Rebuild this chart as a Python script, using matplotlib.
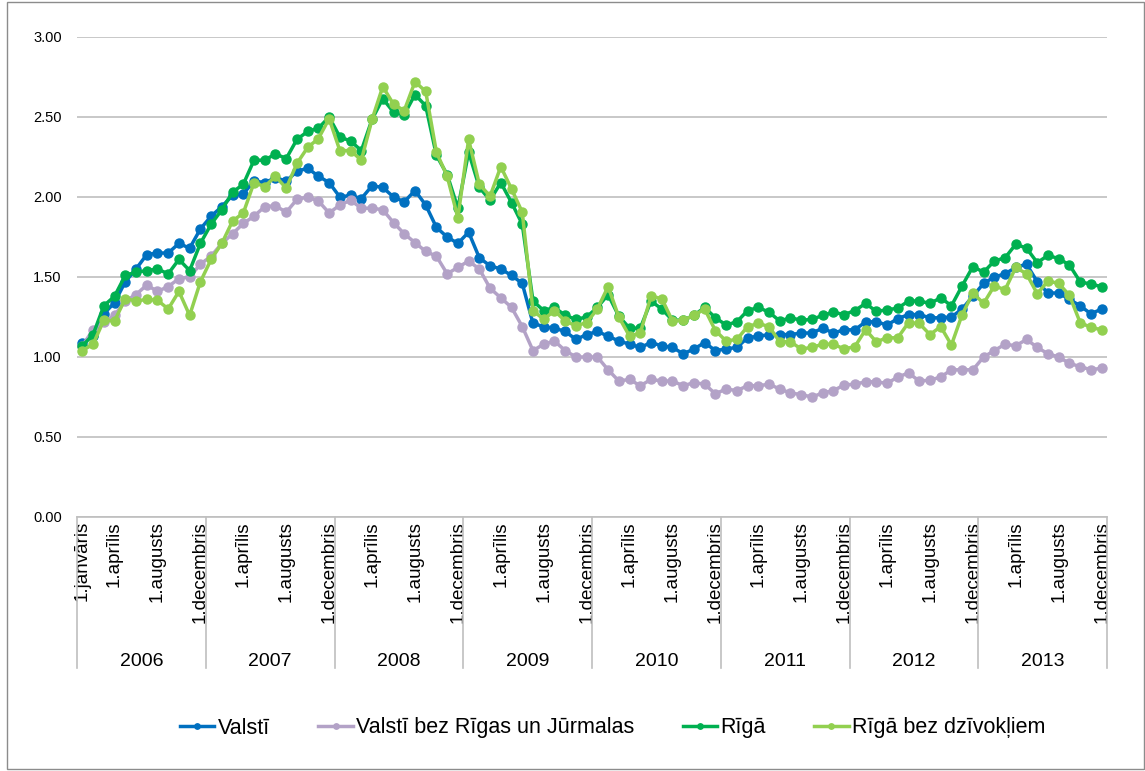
import numpy as np
import matplotlib
matplotlib.use("Agg")
import matplotlib.pyplot as plt
from matplotlib.patches import Rectangle
import matplotlib.transforms as mtransforms

plt.rcParams['font.family'] = ['Liberation Sans', 'DejaVu Sans']

years = ["2006", "2007", "2008", "2009", "2010", "2011", "2012", "2013"]
series_names = ["Valstī", "Valstī bez Rīgas un Jūrmalas", "Rīgā", "Rīgā bez dzīvokļiem"]

# monthly values, Jan 2006 .. Dec 2013
valsti = [
    1.09, 1.13, 1.27, 1.34, 1.47, 1.55, 1.64, 1.65, 1.65, 1.71, 1.68, 1.80,
    1.88, 1.94, 2.01, 2.02, 2.10, 2.09, 2.12, 2.10, 2.16, 2.18, 2.13, 2.09,
    2.00, 2.01, 1.99, 2.07, 2.06, 2.00, 1.97, 2.04, 1.95, 1.81, 1.75, 1.71,
    1.78, 1.62, 1.57, 1.55, 1.51, 1.46, 1.21, 1.19, 1.18, 1.16, 1.11, 1.14,
    1.16, 1.13, 1.10, 1.08, 1.06, 1.09, 1.07, 1.06, 1.02, 1.05, 1.09, 1.04,
    1.05, 1.06, 1.12, 1.13, 1.14, 1.14, 1.14, 1.15, 1.15, 1.18, 1.15, 1.17,
    1.17, 1.22, 1.22, 1.20, 1.24, 1.265, 1.265, 1.245, 1.245, 1.25, 1.30, 1.38,
    1.46, 1.50, 1.52, 1.56, 1.58, 1.47, 1.40, 1.40, 1.36, 1.32, 1.27, 1.30,
]
valsti_bez = [
    1.07, 1.17, 1.22, 1.26, 1.35, 1.39, 1.45, 1.41, 1.44, 1.49, 1.50, 1.58,
    1.63, 1.71, 1.77, 1.835, 1.88, 1.94, 1.945, 1.905, 1.985, 2.00, 1.975, 1.90,
    1.95, 1.98, 1.93, 1.93, 1.92, 1.84, 1.77, 1.715, 1.66, 1.63, 1.52, 1.56,
    1.60, 1.55, 1.43, 1.37, 1.31, 1.19, 1.04, 1.08, 1.10, 1.04, 1.00, 1.00,
    1.00, 0.92, 0.85, 0.86, 0.82, 0.86, 0.85, 0.85, 0.82, 0.84, 0.83, 0.77,
    0.80, 0.79, 0.82, 0.82, 0.83, 0.80, 0.775, 0.765, 0.75, 0.775, 0.79, 0.825,
    0.83, 0.845, 0.845, 0.835, 0.875, 0.90, 0.85, 0.855, 0.875, 0.92, 0.92, 0.92,
    1.00, 1.04, 1.08, 1.07, 1.11, 1.06, 1.02, 1.00, 0.96, 0.94, 0.92, 0.93,
]
riga = [
    1.07, 1.14, 1.32, 1.38, 1.51, 1.53, 1.54, 1.55, 1.52, 1.61, 1.54, 1.71,
    1.83, 1.92, 2.03, 2.08, 2.23, 2.23, 2.27, 2.24, 2.36, 2.41, 2.43, 2.50,
    2.375, 2.35, 2.29, 2.485, 2.615, 2.53, 2.515, 2.64, 2.57, 2.26, 2.14, 1.93,
    2.28, 2.06, 1.98, 2.09, 1.965, 1.83, 1.35, 1.29, 1.31, 1.26, 1.235, 1.25,
    1.31, 1.39, 1.255, 1.18, 1.18, 1.35, 1.30, 1.23, 1.23, 1.26, 1.31, 1.245,
    1.20, 1.22, 1.29, 1.31, 1.28, 1.225, 1.245, 1.23, 1.235, 1.26, 1.28, 1.265,
    1.29, 1.335, 1.285, 1.295, 1.305, 1.35, 1.35, 1.335, 1.37, 1.32, 1.445, 1.565,
    1.53, 1.60, 1.62, 1.705, 1.68, 1.59, 1.635, 1.615, 1.575, 1.47, 1.455, 1.44,
]
riga_bez = [
    1.04, 1.08, 1.23, 1.225, 1.365, 1.35, 1.36, 1.355, 1.30, 1.41, 1.26, 1.47,
    1.61, 1.71, 1.85, 1.90, 2.09, 2.065, 2.13, 2.055, 2.21, 2.31, 2.365, 2.49,
    2.29, 2.29, 2.23, 2.485, 2.69, 2.58, 2.54, 2.72, 2.66, 2.28, 2.13, 1.87,
    2.36, 2.08, 2.005, 2.19, 2.05, 1.905, 1.29, 1.235, 1.29, 1.225, 1.195, 1.215,
    1.30, 1.44, 1.25, 1.13, 1.15, 1.38, 1.365, 1.225, 1.23, 1.26, 1.30, 1.165,
    1.10, 1.11, 1.19, 1.21, 1.19, 1.095, 1.095, 1.05, 1.06, 1.08, 1.08, 1.05,
    1.065, 1.17, 1.095, 1.12, 1.12, 1.215, 1.21, 1.14, 1.19, 1.075, 1.265, 1.40,
    1.335, 1.445, 1.42, 1.56, 1.52, 1.395, 1.475, 1.46, 1.385, 1.215, 1.185, 1.17,
]

# month labels shown under the axis (month index within year -> label)
first_year_labels = {0: "1.janvāris", 3: "1.aprīlis", 7: "1.augusts", 11: "1.decembris"}
other_year_labels = {3: "1.aprīlis", 7: "1.augusts", 11: "1.decembris"}

colors = ["#0070C0", "#B3A2C7", "#00B050", "#92D050"]

fig = plt.figure(figsize=(11.45, 7.71), dpi=100)
ax = fig.add_axes([77 / 1145, 1 - 517 / 771, 1030 / 1145, 480 / 771])

x = np.arange(len(valsti))
for vals, name, c in zip([valsti, valsti_bez, riga, riga_bez], series_names, colors):
    ax.plot(x, vals, color=c, lw=2.5, marker="o", ms=6.5, label=name)

ax.set_xlim(-0.5, len(valsti) - 0.5)
ax.set_ylim(0, 3.0)
ax.set_yticks(np.arange(0, 3.01, 0.5))
ax.set_yticklabels([f"{v:.2f}" for v in np.arange(0, 3.01, 0.5)], fontsize=10.5)
ax.yaxis.grid(True, color="#BFBFBF", lw=1.2)
ax.set_axisbelow(True)
for s in ["left", "right", "top"]:
    ax.spines[s].set_visible(False)
ax.spines["bottom"].set_color("#BFBFBF")
ax.spines["bottom"].set_linewidth(1.2)
ax.tick_params(axis="y", length=0, pad=11)

ticks, labels = [], []
for k in range(len(years)):
    lab = first_year_labels if k == 0 else other_year_labels
    for m, t in lab.items():
        ticks.append(12 * k + m)
        labels.append(t)
ax.set_xticks(ticks)
ax.set_xticklabels(labels, rotation=90, fontsize=13.5, va="top", ha="center")
ax.tick_params(axis="x", length=0, pad=3)

trans = mtransforms.blended_transform_factory(ax.transData, ax.transAxes)
for k in range(len(years) + 1):
    ax.plot([12 * k - 0.5] * 2, [0, -0.315], transform=trans, color="#BFBFBF",
            lw=1.2, clip_on=False)
for k, yr in enumerate(years):
    ax.text(12 * k + 5.5, -0.3, yr, transform=trans, ha="center", va="center",
            fontsize=14)

fig.legend(loc="center", bbox_to_anchor=(0.535, 1 - 728 / 771), ncol=4,
           frameon=False, fontsize=15.5, handlelength=1.6, columnspacing=2.25,
           handletextpad=0.15, markerscale=0.6)

fig.patches.append(Rectangle((7 / 1145, 2 / 771), 1 - 8 / 1145, 1 - 4 / 771,
                             transform=fig.transFigure, fill=False,
                             edgecolor="#8C8C8C", lw=1.0))

fig.savefig("out.png", dpi=100)
